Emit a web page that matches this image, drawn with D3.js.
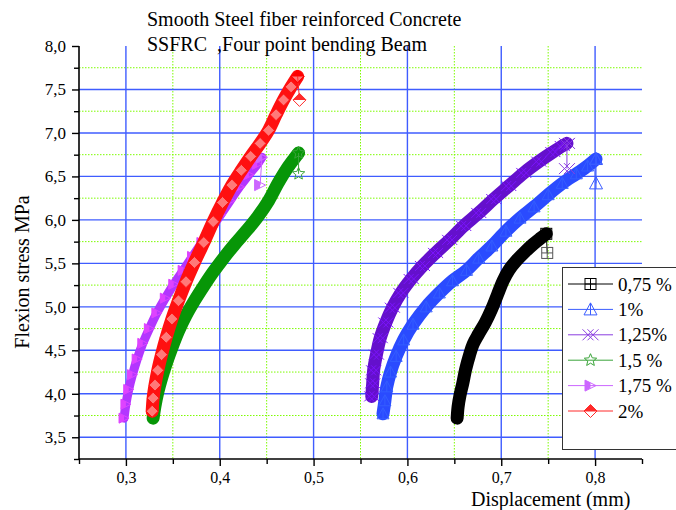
<!DOCTYPE html>
<html><head><meta charset="utf-8">
<script src="https://cdn.jsdelivr.net/npm/d3@7"></script>
<style>
body{margin:0;background:#fff}
svg text{font-family:"Liberation Serif","Times New Roman",serif;fill:#000}
</style>
</head><body>
<svg id="c" width="676" height="510"></svg>
<script>
// ---------------- data ----------------
const seriesNames = ["0,75 %", "1%", "1,25%", "1,5 %", "1,75 %", "2%"];
const bandColors = ["#000000", "#2a4bff", "#6410cc", "#079607", "#b336ff", "#ff1010"];
const legendColors = ["#000000", "#3a5cff", "#8a3ee0", "#3aa43a", "#cc66ff", "#ff2a2a"];

const disp075 = [0.653,0.654,0.656,0.659,0.662,0.666,0.670,0.676,0.683,0.690,0.696,0.702,0.708,0.716,0.725,0.734,0.742,0.748];
const stress075 = [3.72,3.85,3.98,4.12,4.28,4.44,4.57,4.69,4.82,4.98,5.14,5.30,5.42,5.53,5.63,5.72,5.79,5.84];

const disp100 = [0.574,0.576,0.578,0.582,0.588,0.596,0.606,0.620,0.634,0.648,0.663,0.676,0.690,0.705,0.720,0.735,0.750,0.765,0.780,0.792,0.801];
const stress100 = [3.77,3.92,4.08,4.25,4.43,4.62,4.80,5.00,5.16,5.30,5.42,5.56,5.70,5.87,6.02,6.15,6.29,6.42,6.53,6.62,6.70];

const disp125 = [0.562,0.563,0.564,0.567,0.571,0.577,0.584,0.593,0.604,0.616,0.630,0.645,0.660,0.676,0.692,0.708,0.724,0.740,0.755,0.765,0.770];
const stress125 = [3.97,4.12,4.27,4.45,4.64,4.82,4.99,5.16,5.32,5.47,5.62,5.77,5.93,6.08,6.24,6.39,6.54,6.67,6.78,6.85,6.88];

const disp150 = [0.329,0.331,0.334,0.338,0.343,0.349,0.356,0.364,0.373,0.383,0.393,0.404,0.416,0.428,0.440,0.452,0.462,0.471,0.479,0.484];
const stress150 = [3.72,3.86,4.02,4.18,4.35,4.53,4.72,4.90,5.07,5.24,5.40,5.56,5.72,5.87,6.03,6.22,6.42,6.58,6.70,6.77];

const disp175 = [0.298,0.300,0.303,0.307,0.312,0.318,0.325,0.333,0.342,0.351,0.361,0.371,0.381,0.391,0.401,0.411,0.421,0.431,0.440,0.445];
const stress175 = [3.72,3.88,4.05,4.22,4.40,4.58,4.75,4.93,5.10,5.26,5.42,5.58,5.74,5.90,6.06,6.22,6.38,6.52,6.64,6.72];

const disp200 = [0.328,0.329,0.331,0.334,0.338,0.343,0.349,0.356,0.364,0.373,0.383,0.393,0.403,0.413,0.423,0.433,0.443,0.452,0.460,0.468,0.476,0.483];
const stress200 = [3.80,3.95,4.10,4.27,4.45,4.65,4.86,5.07,5.29,5.51,5.74,5.98,6.20,6.40,6.57,6.73,6.88,7.03,7.21,7.38,7.53,7.65];

// final (failure) point of each series
const failDisp = [0.749, 0.801, 0.770, 0.484, 0.443, 0.485];
const failStress = [5.62, 6.42, 6.59, 6.53, 6.40, 7.38];

const xMajorTicks = [0.3, 0.4, 0.5, 0.6, 0.7, 0.8];
const xMinorTicks = [0.25, 0.35, 0.45, 0.55, 0.65, 0.75, 0.85];
const yMajorTicks = [3.5, 4.0, 4.5, 5.0, 5.5, 6.0, 6.5, 7.0, 7.5, 8.0];
const yMinorTicks = [3.25, 3.75, 4.25, 4.75, 5.25, 5.75, 6.25, 6.75, 7.25, 7.75];

const titleLines = ["Smooth Steel fiber reinforced Concrete", "SSFRC  ,Four point bending Beam"];
const xTitle = "Displacement (mm)";
const yTitle = "Flexion stress MPa";

const dispSets = [disp075, disp100, disp125, disp150, disp175, disp200];
const stressSets = [stress075, stress100, stress125, stress150, stress175, stress200];

// ---------------- chart ----------------
const svg = d3.select("#c");
const x = d3.scaleLinear().domain([0.25, 0.85]).range([79, 642]);
const y = d3.scaleLinear().domain([3.25, 8.0]).range([459, 46]);
const fmt = d => d3.format(".1f")(d).replace(".", ",");

// grid
const grid = svg.append("g");
grid.selectAll(".gxm").data(xMinorTicks.filter(v => v > 0.26 && v < 0.8)).join("line")
  .attr("x1", d => x(d)).attr("x2", d => x(d)).attr("y1", y(8.0)).attr("y2", y(3.25))
  .attr("stroke", "#7dfc00").attr("stroke-width", 1).attr("stroke-dasharray", "1.5,1.5");
grid.selectAll(".gym").data(yMinorTicks.filter(v => v > 3.3)).join("line")
  .attr("x1", x(0.25)).attr("x2", x(0.85)).attr("y1", d => y(d)).attr("y2", d => y(d))
  .attr("stroke", "#7dfc00").attr("stroke-width", 1).attr("stroke-dasharray", "1.5,1.5");
grid.selectAll(".gx").data(xMajorTicks).join("line")
  .attr("x1", d => x(d)).attr("x2", d => x(d)).attr("y1", y(8.0)).attr("y2", y(3.25))
  .attr("stroke", "#3f5cff").attr("stroke-width", 1.4);
grid.selectAll(".gy").data(yMajorTicks.filter(v => v < 7.9)).join("line")
  .attr("x1", x(0.25)).attr("x2", x(0.85)).attr("y1", d => y(d)).attr("y2", d => y(d))
  .attr("stroke", "#3f5cff").attr("stroke-width", 1.4);

// symbols
function drawSymbol(g, i, color, sz) {
  const s = sz / 2;
  if (i === 0) {
    g.append("rect").attr("x", -s).attr("y", -s).attr("width", sz).attr("height", sz)
      .attr("fill", "none").attr("stroke", color).attr("stroke-width", 1);
    g.append("path").attr("d", `M${-s},0H${s}M0,${-s}V${s}`).attr("stroke", color).attr("stroke-width", 1);
  } else if (i === 1) {
    g.append("path").attr("d", `M0,${-s - 1}L${s + 1},${s}L${-s - 1},${s}Z`)
      .attr("fill", "none").attr("stroke", color).attr("stroke-width", 1);
    g.append("path").attr("d", `M0,${-s - 1}V${s}`).attr("stroke", color).attr("stroke-width", 1);
  } else if (i === 2) {
    const o = 2.5;
    g.append("path").attr("d",
      `M${-s - o},${-s}L${s - o},${s}M${s - o},${-s}L${-s - o},${s}` +
      `M${-s + o},${-s}L${s + o},${s}M${s + o},${-s}L${-s + o},${s}`)
      .attr("fill", "none").attr("stroke", color).attr("stroke-width", 1);
  } else if (i === 3) {
    const pts = d3.range(10).map(k => {
      const r = k % 2 === 0 ? s + 1 : (s + 1) * 0.45;
      const a = -Math.PI / 2 + k * Math.PI / 5;
      return [r * Math.cos(a), r * Math.sin(a)];
    });
    g.append("path").attr("d", "M" + pts.map(p => p.join(",")).join("L") + "Z")
      .attr("fill", "none").attr("stroke", color).attr("stroke-width", 1);
  } else if (i === 4) {
    g.append("path").attr("d", `M${-s},${-s}L0,${-s / 2}L0,${s / 2}L${-s},${s}Z`).attr("fill", color);
    g.append("path").attr("d", `M${-s},${-s}L${s},0L${-s},${s}Z`)
      .attr("fill", "none").attr("stroke", color).attr("stroke-width", 1);
  } else {
    g.append("path").attr("d", `M0,${-s - 1}L${s + 1},0L${-s - 1},0Z`).attr("fill", color);
    g.append("path").attr("d", `M0,${-s - 1}L${s + 1},0L0,${s + 1}L${-s - 1},0Z`)
      .attr("fill", "#fff").attr("fill-opacity", 0.0).attr("stroke", color).attr("stroke-width", 1);
  }
}

// curves
const line = d3.line().x(d => x(d[0])).y(d => y(d[1])).curve(d3.curveCatmullRom);
const bandWidths = [13, 13, 13, 13, 9, 13];
const drawOrder = [0, 1, 2, 4, 3, 5];
drawOrder.forEach(i => {
  const pts = dispSets[i].map((d, k) => [d, stressSets[i][k]]);
  const g = svg.append("g");
  g.append("path").attr("d", line(pts)).attr("fill", "none")
    .attr("stroke", bandColors[i]).attr("stroke-width", bandWidths[i])
    .attr("stroke-linejoin", "round").attr("stroke-linecap", "round");
  // markers along the band
  pts.forEach(p => {
    const m = g.append("g").attr("transform", `translate(${x(p[0])},${y(p[1])})`);
    if (i === 5) {
      m.append("path").attr("d", "M0,-6L6,0L0,6L-6,0Z").attr("fill", "#ffd0d0").attr("fill-opacity", 0.55)
        .attr("stroke", bandColors[i]).attr("stroke-width", 1);
    } else if (i === 4 || i === 2 || i === 1) {
      drawSymbol(m, i, d3.color(bandColors[i]).brighter(0.6).formatHex(), 10);
    }
  });
  // drop to failure point
  const last = pts[pts.length - 1];
  g.append("line").attr("x1", x(last[0])).attr("y1", y(last[1]))
    .attr("x2", x(failDisp[i])).attr("y2", y(failStress[i]))
    .attr("stroke", legendColors[i]).attr("stroke-width", 1);
  const fm = g.append("g").attr("transform", `translate(${x(failDisp[i])},${y(failStress[i])})`);
  drawSymbol(fm, i, i === 0 ? "#555" : legendColors[i], 11);
  const tm = g.append("g").attr("transform", `translate(${x(last[0])},${y(last[1])})`);
  drawSymbol(tm, i, i === 5 ? "#ff0000" : legendColors[i], 11);
});

// axes
const axes = svg.append("g");
const xAxis = axes.append("g").attr("transform", `translate(0,${y(3.25)})`)
  .call(d3.axisBottom(x).tickValues(xMajorTicks).tickSize(7).tickPadding(6).tickFormat(fmt));
const xAxisMinor = axes.append("g").attr("transform", `translate(0,${y(3.25)})`)
  .call(d3.axisBottom(x).tickValues(xMinorTicks).tickSize(5).tickFormat(""));
const yAxis = axes.append("g").attr("transform", `translate(${x(0.25)},0)`)
  .call(d3.axisLeft(y).tickValues(yMajorTicks).tickSize(7).tickPadding(6).tickFormat(fmt));
const yAxisMinor = axes.append("g").attr("transform", `translate(${x(0.25)},0)`)
  .call(d3.axisLeft(y).tickValues(yMinorTicks).tickSize(5).tickFormat(""));
[xAxis, xAxisMinor, yAxis, yAxisMinor].forEach(a => {
  a.select(".domain").attr("stroke", "#000").attr("stroke-width", 1.6);
  a.selectAll(".tick line").attr("stroke", "#000").attr("stroke-width", 1.4);
  a.selectAll("text").style("font-family", '"Liberation Serif",serif').style("font-size", "17px");
});
xAxis.selectAll("text").style("font-size", "16px");
xAxis.select(".domain").attr("d", `M${x(0.25)},0H${x(0.85)}`);
xAxisMinor.select(".domain").remove();
yAxis.select(".domain").attr("d", `M0,${y(8.0)}V${y(3.25)}`);
yAxisMinor.select(".domain").remove();

// legend
const lg = svg.append("g");
lg.append("rect").attr("x", 562.5).attr("y", 267.5).attr("width", 130).attr("height", 182)
  .attr("fill", "#fff").attr("stroke", "#333").attr("stroke-width", 1);
seriesNames.forEach((name, i) => {
  const cy = 284 + i * 25.4;
  lg.append("line").attr("x1", 568).attr("x2", 613).attr("y1", cy).attr("y2", cy)
    .attr("stroke", legendColors[i]).attr("stroke-width", 1);
  const m = lg.append("g").attr("transform", `translate(590.5,${cy})`);
  drawSymbol(m, i, legendColors[i], 11);
  lg.append("text").attr("x", 618).attr("y", cy + 6.5).style("font-size", "19px").text(name);
});

// titles
svg.append("text").attr("x", 147).attr("y", 26).style("font-size", "20px").text(titleLines[0]);
svg.append("text").attr("x", 147).attr("y", 51).style("font-size", "20px")
  .style("white-space", "pre").attr("xml:space", "preserve").text(titleLines[1]);
svg.append("text").attr("transform", "translate(29,272) rotate(-90)").attr("text-anchor", "middle")
  .style("font-size", "20px").text(yTitle);
svg.append("text").attr("x", 471).attr("y", 506).style("font-size", "20px").text(xTitle);
</script>
</body></html>
